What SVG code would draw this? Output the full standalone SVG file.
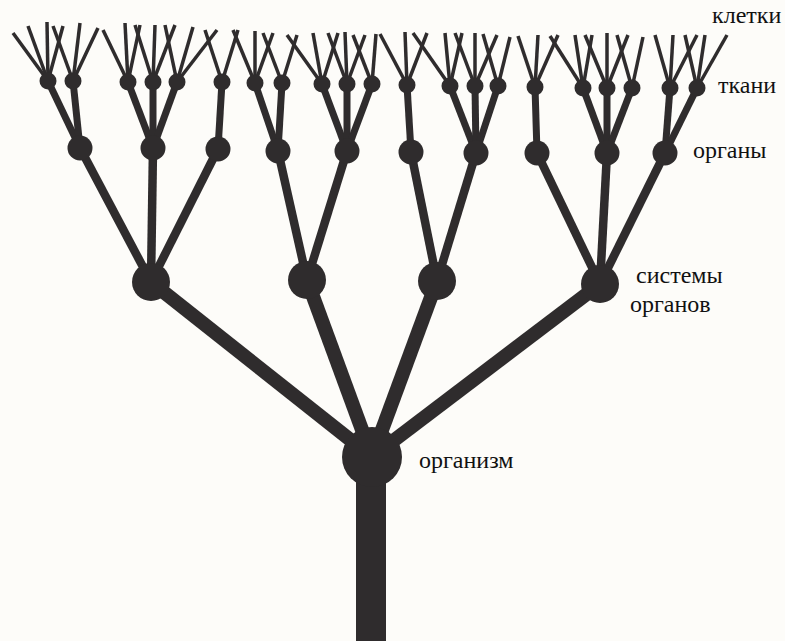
<svg xmlns="http://www.w3.org/2000/svg" width="785" height="641" viewBox="0 0 785 641">
<style>
.bg{fill:#fdfcf9}
line{stroke:#2f2c2d;stroke-linecap:butt}
.cell{stroke-width:3.5}
.t2o{stroke-width:7}
.o2s{stroke-width:8.5}
.s2g{stroke-width:14}
.trunk{stroke-width:30}
circle{fill:#2f2c2d}
.lbl{font-family:'Liberation Serif','DejaVu Serif','Times New Roman',serif;font-size:24px;fill:#111}
</style>
<rect class="bg" x="0" y="0" width="785" height="641"/>
<g id="connectors">
<line class="trunk" x1="371" y1="457" x2="371" y2="641"/>
<line class="s2g" x1="372" y1="457" x2="151" y2="282"/>
<line class="s2g" x1="372" y1="457" x2="307" y2="280"/>
<line class="s2g" x1="372" y1="457" x2="437" y2="281"/>
<line class="s2g" x1="372" y1="457" x2="600" y2="284"/>
<line class="o2s" x1="151" y1="282" x2="80" y2="148"/>
<line class="o2s" x1="151" y1="282" x2="153" y2="148"/>
<line class="o2s" x1="151" y1="282" x2="218" y2="149"/>
<line class="o2s" x1="307" y1="280" x2="278" y2="151"/>
<line class="o2s" x1="307" y1="280" x2="347" y2="151"/>
<line class="o2s" x1="437" y1="281" x2="411" y2="152"/>
<line class="o2s" x1="437" y1="281" x2="476" y2="153"/>
<line class="o2s" x1="600" y1="284" x2="537" y2="153"/>
<line class="o2s" x1="600" y1="284" x2="607" y2="153"/>
<line class="o2s" x1="600" y1="284" x2="665" y2="153"/>
<line class="t2o" x1="80" y1="148" x2="48" y2="81"/>
<line class="t2o" x1="80" y1="148" x2="73" y2="81"/>
<line class="t2o" x1="153" y1="148" x2="128" y2="82"/>
<line class="t2o" x1="153" y1="148" x2="153" y2="82"/>
<line class="t2o" x1="153" y1="148" x2="177" y2="82"/>
<line class="t2o" x1="218" y1="149" x2="222" y2="82"/>
<line class="t2o" x1="278" y1="151" x2="255" y2="83"/>
<line class="t2o" x1="278" y1="151" x2="282" y2="83"/>
<line class="t2o" x1="347" y1="151" x2="322" y2="84"/>
<line class="t2o" x1="347" y1="151" x2="347" y2="84"/>
<line class="t2o" x1="347" y1="151" x2="372" y2="84"/>
<line class="t2o" x1="411" y1="152" x2="407" y2="85"/>
<line class="t2o" x1="476" y1="153" x2="450" y2="86"/>
<line class="t2o" x1="476" y1="153" x2="475" y2="86"/>
<line class="t2o" x1="476" y1="153" x2="498" y2="86"/>
<line class="t2o" x1="537" y1="153" x2="535" y2="87"/>
<line class="t2o" x1="607" y1="153" x2="583" y2="88"/>
<line class="t2o" x1="607" y1="153" x2="607" y2="88"/>
<line class="t2o" x1="607" y1="153" x2="632" y2="88"/>
<line class="t2o" x1="665" y1="153" x2="670" y2="88"/>
<line class="t2o" x1="665" y1="153" x2="697" y2="88"/>
</g>
<g id="cells">
<line class="cell" x1="48" y1="81" x2="13" y2="33"/>
<line class="cell" x1="48" y1="81" x2="28" y2="26"/>
<line class="cell" x1="48" y1="81" x2="47" y2="22"/>
<line class="cell" x1="48" y1="81" x2="63" y2="26"/>
<line class="cell" x1="73" y1="81" x2="53" y2="26"/>
<line class="cell" x1="73" y1="81" x2="80" y2="23"/>
<line class="cell" x1="73" y1="81" x2="98" y2="28"/>
<line class="cell" x1="128" y1="82" x2="103" y2="30"/>
<line class="cell" x1="128" y1="82" x2="125" y2="23"/>
<line class="cell" x1="128" y1="82" x2="140" y2="25"/>
<line class="cell" x1="153" y1="82" x2="135" y2="25"/>
<line class="cell" x1="153" y1="82" x2="155" y2="25"/>
<line class="cell" x1="153" y1="82" x2="175" y2="25"/>
<line class="cell" x1="177" y1="82" x2="165" y2="25"/>
<line class="cell" x1="177" y1="82" x2="193" y2="27"/>
<line class="cell" x1="177" y1="82" x2="217" y2="30"/>
<line class="cell" x1="222" y1="82" x2="205" y2="30"/>
<line class="cell" x1="222" y1="82" x2="238" y2="30"/>
<line class="cell" x1="255" y1="83" x2="233" y2="30"/>
<line class="cell" x1="255" y1="83" x2="255" y2="31"/>
<line class="cell" x1="255" y1="83" x2="273" y2="33"/>
<line class="cell" x1="282" y1="83" x2="263" y2="33"/>
<line class="cell" x1="282" y1="83" x2="297" y2="35"/>
<line class="cell" x1="322" y1="84" x2="287" y2="35"/>
<line class="cell" x1="322" y1="84" x2="313" y2="33"/>
<line class="cell" x1="322" y1="84" x2="338" y2="33"/>
<line class="cell" x1="347" y1="84" x2="328" y2="33"/>
<line class="cell" x1="347" y1="84" x2="345" y2="32"/>
<line class="cell" x1="347" y1="84" x2="365" y2="35"/>
<line class="cell" x1="372" y1="84" x2="353" y2="35"/>
<line class="cell" x1="372" y1="84" x2="376" y2="34"/>
<line class="cell" x1="407" y1="85" x2="380" y2="34"/>
<line class="cell" x1="407" y1="85" x2="405" y2="32"/>
<line class="cell" x1="407" y1="85" x2="427" y2="33"/>
<line class="cell" x1="450" y1="86" x2="413" y2="33"/>
<line class="cell" x1="450" y1="86" x2="445" y2="33"/>
<line class="cell" x1="450" y1="86" x2="462" y2="33"/>
<line class="cell" x1="475" y1="86" x2="455" y2="33"/>
<line class="cell" x1="475" y1="86" x2="475" y2="33"/>
<line class="cell" x1="475" y1="86" x2="497" y2="35"/>
<line class="cell" x1="498" y1="86" x2="483" y2="34"/>
<line class="cell" x1="498" y1="86" x2="510" y2="37"/>
<line class="cell" x1="535" y1="87" x2="518" y2="36"/>
<line class="cell" x1="535" y1="87" x2="538" y2="35"/>
<line class="cell" x1="535" y1="87" x2="558" y2="35"/>
<line class="cell" x1="583" y1="88" x2="550" y2="36"/>
<line class="cell" x1="583" y1="88" x2="575" y2="35"/>
<line class="cell" x1="583" y1="88" x2="592" y2="35"/>
<line class="cell" x1="607" y1="88" x2="585" y2="35"/>
<line class="cell" x1="607" y1="88" x2="607" y2="33"/>
<line class="cell" x1="607" y1="88" x2="628" y2="35"/>
<line class="cell" x1="632" y1="88" x2="617" y2="35"/>
<line class="cell" x1="632" y1="88" x2="643" y2="37"/>
<line class="cell" x1="670" y1="88" x2="655" y2="35"/>
<line class="cell" x1="670" y1="88" x2="673" y2="35"/>
<line class="cell" x1="670" y1="88" x2="697" y2="35"/>
<line class="cell" x1="697" y1="88" x2="685" y2="35"/>
<line class="cell" x1="697" y1="88" x2="705" y2="35"/>
<line class="cell" x1="697" y1="88" x2="727" y2="35"/>
</g>
<g id="organism"><circle cx="372" cy="457" r="30"/></g>
<g id="system1"><circle cx="151" cy="282" r="19"/></g>
<g id="system2"><circle cx="307" cy="280" r="19"/></g>
<g id="system3"><circle cx="437" cy="281" r="19"/></g>
<g id="system4"><circle cx="600" cy="284" r="19"/></g>
<g id="organ1"><circle cx="80" cy="148" r="12.5"/></g>
<g id="organ2"><circle cx="153" cy="148" r="12.5"/></g>
<g id="organ3"><circle cx="218" cy="149" r="12.5"/></g>
<g id="organ4"><circle cx="278" cy="151" r="12.5"/></g>
<g id="organ5"><circle cx="347" cy="151" r="12.5"/></g>
<g id="organ6"><circle cx="411" cy="152" r="12.5"/></g>
<g id="organ7"><circle cx="476" cy="153" r="12.5"/></g>
<g id="organ8"><circle cx="537" cy="153" r="12.5"/></g>
<g id="organ9"><circle cx="607" cy="153" r="12.5"/></g>
<g id="organ10"><circle cx="665" cy="153" r="12.5"/></g>
<g id="tissue1"><circle cx="48" cy="81" r="8.5"/></g>
<g id="tissue2"><circle cx="73" cy="81" r="8.5"/></g>
<g id="tissue3"><circle cx="128" cy="82" r="8.5"/></g>
<g id="tissue4"><circle cx="153" cy="82" r="8.5"/></g>
<g id="tissue5"><circle cx="177" cy="82" r="8.5"/></g>
<g id="tissue6"><circle cx="222" cy="82" r="8.5"/></g>
<g id="tissue7"><circle cx="255" cy="83" r="8.5"/></g>
<g id="tissue8"><circle cx="282" cy="83" r="8.5"/></g>
<g id="tissue9"><circle cx="322" cy="84" r="8.5"/></g>
<g id="tissue10"><circle cx="347" cy="84" r="8.5"/></g>
<g id="tissue11"><circle cx="372" cy="84" r="8.5"/></g>
<g id="tissue12"><circle cx="407" cy="85" r="8.5"/></g>
<g id="tissue13"><circle cx="450" cy="86" r="8.5"/></g>
<g id="tissue14"><circle cx="475" cy="86" r="8.5"/></g>
<g id="tissue15"><circle cx="498" cy="86" r="8.5"/></g>
<g id="tissue16"><circle cx="535" cy="87" r="8.5"/></g>
<g id="tissue17"><circle cx="583" cy="88" r="8.5"/></g>
<g id="tissue18"><circle cx="607" cy="88" r="8.5"/></g>
<g id="tissue19"><circle cx="632" cy="88" r="8.5"/></g>
<g id="tissue20"><circle cx="670" cy="88" r="8.5"/></g>
<g id="tissue21"><circle cx="697" cy="88" r="8.5"/></g>
<g id="labels" font-family="Liberation Serif, DejaVu Serif, serif">
<text class="lbl" x="712" y="23">клетки</text>
<text class="lbl" x="718" y="93">ткани</text>
<text class="lbl" x="693" y="158">органы</text>
<text class="lbl" x="636" y="283">системы</text>
<text class="lbl" x="630" y="312">органов</text>
<text class="lbl" x="419" y="468">организм</text>
</g>
</svg>
